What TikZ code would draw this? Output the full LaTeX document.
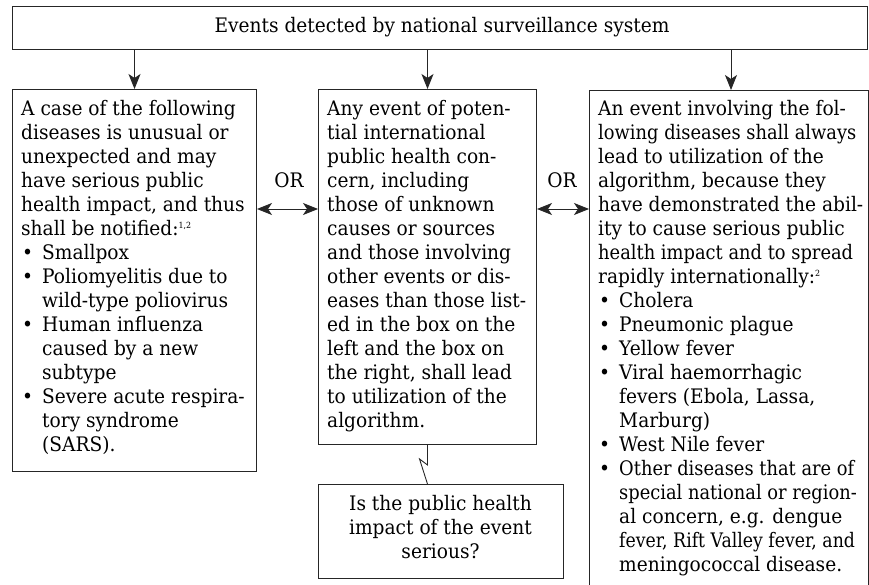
\documentclass[tikz,border=0pt]{standalone}
\usepackage{fontspec}
\usepackage{graphicx}
\setmainfont{DejaVu Serif}[FakeStretch=0.93]
\usetikzlibrary{arrows.meta}
\newcommand\fl{\rule{0pt}{18pt}}
\newcommand\bul{\makebox[21pt][l]{\hspace{1pt}\textbullet}}
\newcommand\ind{\hspace*{21pt}}
\newcommand\sups[1]{\raisebox{7pt}{\fontsize{8.5}{8.5}\selectfont #1}}
\newcommand\nar[1]{\scalebox{0.96}[1]{#1}}
\begin{document}
\begin{tikzpicture}[x=1pt,y=-1pt,
  box/.style={draw=black!85, line width=1pt, inner sep=0pt, anchor=north west},
  txt/.style={font=\fontsize{20}{24}\selectfont, align=left, inner sep=0pt, anchor=north west, text=black},
  ctxt/.style={font=\fontsize{20}{24}\selectfont, align=center, inner sep=0pt, text=black},
  lnk/.style={draw=black!85, line width=0.9pt},
  arr/.style={lnk, -{Stealth[length=15pt,width=12pt,inset=4pt]}},
  dbl/.style={lnk, {Stealth[length=15pt,width=12pt,inset=4pt]}-{Stealth[length=15pt,width=12pt,inset=4pt]}}]

\clip (0,0) rectangle (869,585);

\node[box, minimum width=855pt, minimum height=43pt] (top) at (12,6) {};
\node[ctxt, anchor=base] (toptxt) at (442,33) {Events detected by national surveillance system};

\node[box, minimum width=244pt, minimum height=382pt] (left) at (12,89) {};
\node[box, minimum width=218pt, minimum height=355pt] (mid) at (318,89) {};
\node[box, minimum width=279pt, minimum height=520pt] (right) at (589,90) {};
\node[box, minimum width=245pt, minimum height=94pt] (bottom) at (318,484) {};

\node[txt] (lefttxt) at (21,97) {\fl A case of the following\\
diseases is unusual or\\
unexpected and may\\
have serious public\\
health impact, and thus\\
shall be notified:\sups{1,2}\\
\bul Smallpox\\
\bul Poliomyelitis due to\\
\ind wild-type poliovirus\\
\bul Human influenza\\
\ind caused by a new\\
\ind subtype\\
\bul Severe acute respira-\\
\ind tory syndrome\\
\ind (SARS).};

\node[txt] (midtxt) at (327,97) {\fl Any event of poten-\\
tial international\\
public health con-\\
cern, including\\
those of unknown\\
causes or sources\\
and those involving\\
other events or dis-\\
eases than those list-\\
ed in the box on the\\
left and the box on\\
the right, shall lead\\
to utilization of the\\
algorithm.};

\node[txt] (righttxt) at (598,97) {\fl An event involving the fol-\\
\nar{lowing diseases shall always}\\
lead to utilization of the\\
algorithm, because they\\
have demonstrated the abil-\\
ity to cause serious public\\
\nar{health impact and to spread}\\
rapidly internationally:\sups{2}\\
\bul Cholera\\
\bul Pneumonic plague\\
\bul Yellow fever\\
\bul Viral haemorrhagic\\
\ind fevers (Ebola, Lassa,\\
\ind Marburg)\\
\bul West Nile fever\\
\bul \nar{Other diseases that are of}\\
\ind \nar{special national or region-}\\
\ind al concern, e.g. dengue\\
\ind \scalebox{0.93}[1]{fever, Rift Valley fever, and}\\
\ind meningococcal disease.};

\node[ctxt, anchor=north] (bottxt) at (440.5,492) {\fl Is the public health\\impact of the event\\serious?};

\node[ctxt, anchor=base] (or1) at (289,188) {OR};
\node[ctxt, anchor=base] (or2) at (562,188) {OR};

\coordinate (ra) at (731,0);
\draw[arr] (top.south -| left.north) -- (left.north);
\draw[arr] (top.south -| mid.north) -- (mid.north);
\draw[arr] (top.south -| ra) -- (right.north -| ra);

\coordinate (dy) at (0,209);
\draw[dbl] (left.east |- dy) -- (mid.west |- dy);
\draw[dbl] (mid.east |- dy) -- (right.west |- dy);

\draw[lnk] (mid.south) -- ++(0,20) -- ++(-8,-6) -- (mid.south |- bottom.north);
\end{tikzpicture}
\end{document}
